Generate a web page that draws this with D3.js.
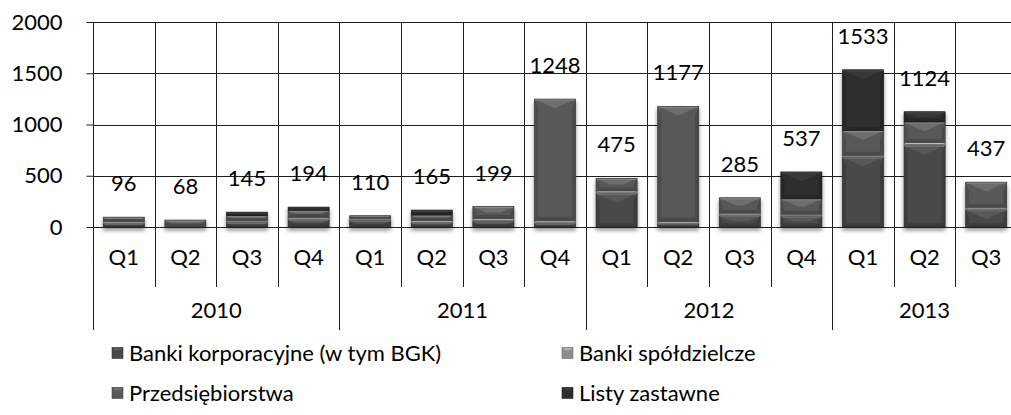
<!DOCTYPE html>
<html>
<head>
<meta charset="utf-8">
<script src="https://cdn.jsdelivr.net/npm/d3@7"></script>
<style>
  html, body { margin: 0; padding: 0; background: #fff; overflow: hidden; }
  svg { display: block; font-family: Lato, "Open Sans", sans-serif; }
</style>
</head>
<body>
<svg id="chart" width="1011" height="415"></svg>
<script>
// Quarterly issuance, stacked by issuer type
const quarters = ["Q1","Q2","Q3","Q4","Q1","Q2","Q3","Q4","Q1","Q2","Q3","Q4","Q1","Q2","Q3"];
const years = ["2010","2011","2012","2013"];
const quartersPerYear = [4, 4, 4, 3];

const seriesNames = ["Banki korporacyjne (w tym BGK)", "Banki spółdzielcze", "Przedsiębiorstwa", "Listy zastawne"];
const bankiKorporacyjne = [35, 0, 45, 72, 65, 42, 58, 35, 327, 30, 110, 105, 680, 795, 168];
const bankiSpoldzielcze = [18, 0, 20, 20, 20, 20, 25, 25, 25, 25, 25, 20, 20, 30, 25];
const przedsiebiorstwa  = [43, 68, 45, 72, 25, 55, 116, 1188, 123, 1122, 150, 150, 240, 200, 244];
const listyZastawne     = [0, 0, 35, 30, 0, 48, 0, 0, 0, 0, 0, 262, 593, 99, 0];
const totals            = [96, 68, 145, 194, 110, 165, 199, 1248, 475, 1177, 285, 537, 1533, 1124, 437];

const yTicks = [0, 500, 1000, 1500, 2000];
const seriesColors = ["#484848", "#8c8c8c", "#595959", "#2e2e2e"];

const svg = d3.select("#chart");
const plotLeft = 93, plotTop = 22, plotBottom = 227;
const step = 61.6;
const plotRight = plotLeft + step * quarters.length;

const ids = quarters.map((q, i) => i);
const x = d3.scaleBand().domain(ids).range([plotLeft, plotRight]).padding(0);
const y = d3.scaleLinear().domain([0, 2000]).range([plotBottom, plotTop]);

const rows = ids.map(i => ({
  i, total: totals[i],
  korp: bankiKorporacyjne[i], spol: bankiSpoldzielcze[i],
  przed: przedsiebiorstwa[i], listy: listyZastawne[i]
}));
const keys = ["korp", "spol", "przed", "listy"];
const stacked = d3.stack().keys(keys)(rows);

// soft drop shadow under the bars
const defs = svg.append("defs");
const f = defs.append("filter").attr("id", "shadow").attr("x", "-20%").attr("y", "-20%").attr("width", "140%").attr("height", "140%");
f.append("feGaussianBlur").attr("in", "SourceAlpha").attr("stdDeviation", 2.2).attr("result", "b");
f.append("feOffset").attr("in", "b").attr("dy", 3).attr("result", "o");
f.append("feComponentTransfer").attr("in", "o").attr("result", "s")
  .append("feFuncA").attr("type", "linear").attr("slope", 0.45);
const m = f.append("feMerge");
m.append("feMergeNode").attr("in", "s");
m.append("feMergeNode").attr("in", "SourceGraphic");

// horizontal gridlines
svg.append("g").selectAll("line").data(yTicks).join("line")
  .attr("x1", plotLeft).attr("x2", plotRight)
  .attr("y1", d => Math.round(y(d)) + 0.5).attr("y2", d => Math.round(y(d)) + 0.5)
  .attr("stroke", "#1e1e1e").attr("stroke-width", 1);

// vertical gridlines between categories
svg.append("g").selectAll("line").data(d3.range(1, quarters.length + 1)).join("line")
  .attr("x1", d => Math.round(plotLeft + d * step) + 0.5).attr("x2", d => Math.round(plotLeft + d * step) + 0.5)
  .attr("y1", plotTop).attr("y2", plotBottom)
  .attr("stroke", "#1e1e1e").attr("stroke-width", 1);

// y axis
const yAxis = d3.axisLeft(y).tickValues(yTicks).tickSize(7).tickPadding(24).tickFormat(d3.format("d"));
const ya = svg.append("g").attr("transform", `translate(${plotLeft + 0.5},0)`).call(yAxis);
ya.select(".domain").attr("stroke", "#1e1e1e").attr("d", `M0,${y(2000)}V${y(0)}`);
ya.selectAll(".tick line").attr("stroke", "#1e1e1e");
ya.selectAll("text").attr("font-size", 22).attr("fill", "#000").attr("font-family", "Lato, sans-serif");

// bevelled segments
function lighten(c, k) { return d3.color(c).brighter(k).formatHex(); }
function darken(c, k) { return d3.color(c).darker(k).formatHex(); }

const bw = step * 0.666;
const barsG = svg.append("g").attr("filter", "url(#shadow)");
stacked.forEach((layer, si) => {
  const col = seriesColors[si];
  layer.forEach(d => {
    const v0 = d[0], v1 = d[1];
    if (v1 - v0 <= 0) return;
    const i = d.data.i;
    const x0 = x(i) + (step - bw) / 2, x1 = x0 + bw;
    const yt = y(v1), yb = y(v0), h = yb - yt;
    const b = Math.min(9, h / 2);
    const s = Math.min(3.5, b);
    const g = barsG.append("g");
    g.append("rect").attr("x", x0).attr("y", yt).attr("width", bw).attr("height", h).attr("fill", col);
    // top facet
    g.append("path").attr("d", `M${x0},${yt}H${x1}L${x1 - b * 2.2},${yt + b}H${x0 + b * 2.2}Z`)
      .attr("fill", lighten(col, 0.6));
    // left / right facets
    g.append("path").attr("d", `M${x0},${yt}L${x0 + s},${yt + b}V${yb - s}L${x0},${yb}Z`).attr("fill", darken(col, 0.4));
    g.append("path").attr("d", `M${x1},${yt}L${x1 - s},${yt + b}V${yb - s}L${x1},${yb}Z`).attr("fill", darken(col, 0.5));
    // bottom facet
    g.append("path").attr("d", `M${x0},${yb}H${x1}L${x1 - s},${yb - s}H${x0 + s}Z`).attr("fill", darken(col, 0.55));
    // top highlight
    g.append("rect").attr("x", x0 + 1).attr("y", yt).attr("width", bw - 2).attr("height", Math.min(1.5, h / 3))
      .attr("fill", lighten(col, 1.2));
    g.append("rect").attr("x", x0).attr("y", yt).attr("width", bw).attr("height", h)
      .attr("fill", "none").attr("stroke", darken(col, 0.9)).attr("stroke-width", 0.7);
  });
});

// total labels
svg.append("g").selectAll("text").data(rows).join("text")
  .attr("x", d => x(d.i) + step / 2)
  .attr("y", d => y(d.total) - 26)
  .attr("text-anchor", "middle")
  .attr("font-size", 22).attr("fill", "#000")
  .text(d => d.total);

// category axis: quarter row and year row
const axisG = svg.append("g");
axisG.append("line").attr("x1", plotLeft).attr("x2", plotRight).attr("y1", plotBottom + 0.5).attr("y2", plotBottom + 0.5).attr("stroke", "#1e1e1e");
axisG.selectAll("text.q").data(quarters).join("text").attr("class", "q")
  .attr("x", (d, i) => x(i) + step / 2).attr("y", 265)
  .attr("text-anchor", "middle").attr("font-size", 22).text(d => d);

// separators: short between quarters, long at year boundaries
let cum = 0;
const yearStarts = quartersPerYear.map(n => { const s = cum; cum += n; return s; });
const boundaries = d3.range(0, quarters.length + 1);
axisG.selectAll("line.sep").data(boundaries).join("line").attr("class", "sep")
  .attr("x1", d => Math.round(plotLeft + d * step) + 0.5).attr("x2", d => Math.round(plotLeft + d * step) + 0.5)
  .attr("y1", plotBottom)
  .attr("y2", d => (yearStarts.includes(d) || d === quarters.length) ? 330 : 287)
  .attr("stroke", "#1e1e1e");

axisG.selectAll("text.yr").data(years).join("text").attr("class", "yr")
  .attr("x", (d, k) => plotLeft + (yearStarts[k] + quartersPerYear[k] / 2) * step)
  .attr("y", 318).attr("text-anchor", "middle").attr("font-size", 22).text(d => d);

// legend
const legendPos = [[112, 353], [562, 353], [112, 393], [562, 393]];
const lg = svg.append("g");
seriesNames.forEach((name, k) => {
  const [lx, ly] = legendPos[k];
  const col = seriesColors[k];
  const s = 11;
  const g = lg.append("g");
  g.append("rect").attr("x", lx).attr("y", ly - s / 2).attr("width", s).attr("height", s).attr("fill", col);
  g.append("path").attr("d", `M${lx},${ly - s / 2}H${lx + s}L${lx + s - 3},${ly - s / 2 + 3}H${lx + 3}Z`).attr("fill", lighten(col, 0.6));
  g.append("rect").attr("x", lx).attr("y", ly - s / 2).attr("width", s).attr("height", s).attr("fill", "none").attr("stroke", darken(col, 0.6)).attr("stroke-width", 0.6);
  lg.append("text").attr("x", lx + 17).attr("y", ly + 8).attr("font-size", 22).text(name);
});
</script>
</body>
</html>
